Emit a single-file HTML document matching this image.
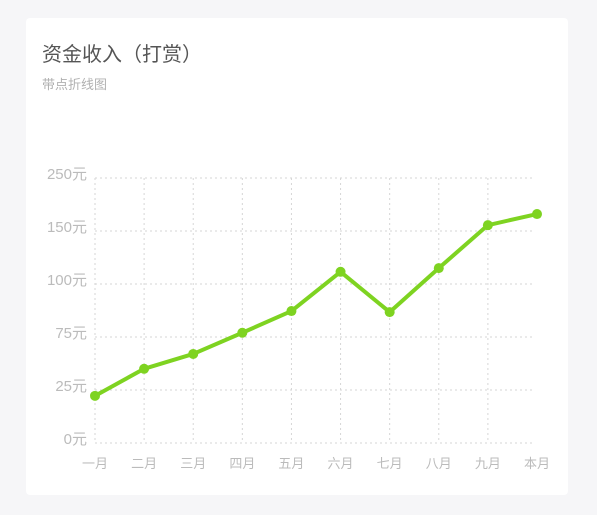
<!DOCTYPE html>
<html><head><meta charset="utf-8"><style>
body{margin:0;width:597px;height:515px;background:#f6f6f8;font-family:"Liberation Sans","Noto Sans CJK SC",sans-serif;overflow:hidden}
.card{position:absolute;left:26px;top:18px;width:542px;height:477px;background:#fff;border-radius:4px}
.title{position:absolute;left:42px;top:38px;font-size:20px;color:#555}
.sub{position:absolute;left:42px;top:74px;font-size:13px;color:#b0b0b0}
svg{position:absolute;left:0;top:0}
</style></head><body>
<div class="card"></div>
<div class="title">资金收入（打赏）</div>
<div class="sub">带点折线图</div>
<svg id="c" width="597" height="515"></svg>
<script>
const categories=["一月","二月","三月","四月","五月","六月","七月","八月","九月","本月"];
const values=[0.89,1.40,1.68,2.08,2.49,3.23,2.47,3.30,4.11,4.32];
const yTicks=[0,1,2,3,4,5];
const yTickLabels=["0元","25元","75元","100元","150元","250元"];
const svg=document.getElementById('c');
const NS="http://www.w3.org/2000/svg";
const x0=95,x1=537,y0=443,y1=178;
const xs=i=>x0+(x1-x0)*i/(categories.length-1);
const ys=v=>y0-(y0-y1)*v/5;
function mk(t,a){const e=document.createElementNS(NS,t);for(const k in a)e.setAttribute(k,a[k]);svg.appendChild(e);return e;}
yTicks.forEach((t,i)=>{
 const l=mk('line',{x1:x0,x2:x1-4,y1:ys(t),y2:ys(t),stroke:'#d6d6d6','stroke-dasharray':'2,3'});
 
 
 const tx=mk('text',{x:x0-8,y:ys(t)+1,'text-anchor':'end','font-size':15,fill:'#bbb'});
 tx.textContent=yTickLabels[i];
 
 
});
categories.forEach((c,i)=>{
 if(i<categories.length-1){
 const l=mk('line',{x1:xs(i),x2:xs(i),y1:y1,y2:y0,stroke:'#d6d6d6','stroke-dasharray':'2,3'});
 
 }
 const tx=mk('text',{x:xs(i),y:468,'text-anchor':'middle','font-size':13,fill:'#bbb'});
 tx.textContent=c;
 
 
});
const p=mk('polyline',{points:values.map((v,i)=>xs(i)+','+ys(v)).join(' '),fill:'none',stroke:'#7ed321','stroke-width':4,'stroke-linejoin':'round'});


values.forEach((v,i)=>{
 const c=mk('circle',{cx:xs(i),cy:ys(v),r:5,fill:'#7ed321'});
 
 
});
</script>
</body></html>
